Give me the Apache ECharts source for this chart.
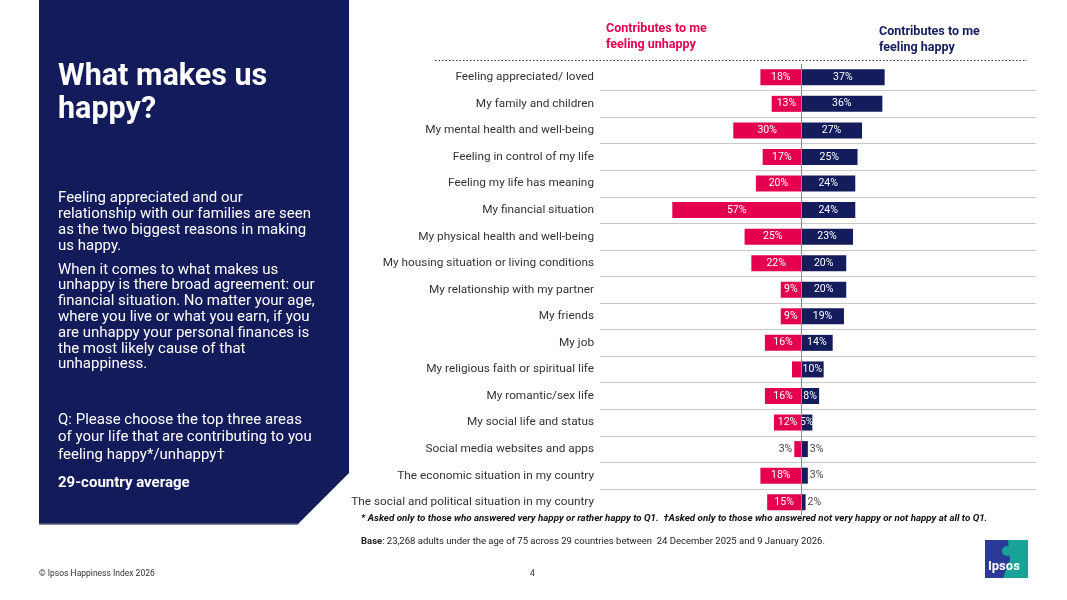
<!DOCTYPE html>
<html><head><meta charset="utf-8">
<script src="https://cdn.jsdelivr.net/npm/echarts@6/dist/echarts.min.js"></script>
<style>html,body{margin:0;padding:0;background:#fff}#c{width:1067px;height:600px}</style>
</head><body><div id="c"></div>
<script>
const categories = [
  "Feeling appreciated/ loved",
  "My family and children",
  "My mental health and well-being",
  "Feeling in control of my life",
  "Feeling my life has meaning",
  "My financial situation",
  "My physical health and well-being",
  "My housing situation or living conditions",
  "My relationship with my partner",
  "My friends",
  "My job",
  "My religious faith or spiritual life",
  "My romantic/sex life",
  "My social life and status",
  "Social media websites and apps",
  "The economic situation in my country",
  "The social and political situation in my country"
];
const unhappy = [18, 13, 30, 17, 20, 57, 25, 22, 9, 9, 16, 4, 16, 12, 3, 18, 15];
const happy   = [37, 36, 27, 25, 24, 24, 23, 20, 20, 19, 14, 10, 8, 5, 3, 3, 2];

const PINK = '#E4004F', NAVY = '#141C5C', FONT = 'Roboto, sans-serif';

function mk(vals, sign) {
  return vals.map(v => {
    let label;
    if (v >= 5) label = {show: true, position: 'inside', color: '#fff'};
    else if (v <= 3) label = {show: true, position: sign < 0 ? 'left' : 'right', color: '#444', distance: 2};
    else label = {show: false};
    return {value: sign * v, label};
  });
}

const chart = echarts.init(document.getElementById('c'));
chart.setOption({
  animation: false,
  textStyle: {fontFamily: FONT},
  grid: {left: 600, right: 31, top: 64, bottom: 84.5},
  xAxis: {type: 'value', min: -89, max: 104, show: false},
  yAxis: [
    {type: 'category', data: categories, inverse: true,
     axisLine: {show: false}, axisTick: {show: false},
     axisLabel: {color: '#333', fontSize: 11.8, margin: 6, fontFamily: FONT},
     splitLine: {show: false}},
    {type: 'value', min: 0, max: categories.length, interval: 1, inverse: true,
     axisLine: {show: false}, axisTick: {show: false}, axisLabel: {show: false},
     splitLine: {show: true, showMinLine: false, showMaxLine: false,
       lineStyle: {color: '#c8c8c8', width: 1}}}
  ],
  series: [
    {type: 'bar', name: 'unhappy', stack: 't', yAxisIndex: 0, barWidth: 16,
     itemStyle: {color: PINK}, data: mk(unhappy, -1),
     label: {fontSize: 10.5, fontFamily: FONT, formatter: p => Math.abs(p.value) + '%'},
     markLine: {silent: true, symbol: 'none', label: {show: false},
       lineStyle: {color: '#8a8a8a', width: 1, type: 'solid'}, data: [{xAxis: 0}]}},
    {type: 'bar', name: 'happy', stack: 't', yAxisIndex: 0, barWidth: 16,
     itemStyle: {color: NAVY}, data: mk(happy, 1),
     label: {fontSize: 10.5, fontFamily: FONT, formatter: p => Math.abs(p.value) + '%'}}
  ],
  graphic: [
    {type: 'polygon', z: 0, shape: {points: [[39,0],[349,0],[349,473],[298,524],[39,524]]},
     style: {fill: '#131B5B'}},
    {type: 'line', shape: {x1: 39, y1: 524, x2: 298, y2: 524}, style: {stroke: '#5a6080', lineWidth: 1.5}},
    {type: 'text', left: 58, top: 61, style: {text: 'What makes us\nhappy?', fill: '#fff',
      font: 'bold 30.5px ' + FONT, lineHeight: 33}},
    {type: 'text', left: 58, top: 190, style: {text: 'Feeling appreciated and our\nrelationship with our families are seen\nas the two biggest reasons in making\nus happy.',
      fill: '#fff', font: '15px ' + FONT, lineHeight: 16}},
    {type: 'text', left: 58, top: 262, style: {text: 'When it comes to what makes us\nunhappy is there broad agreement: our\nfinancial situation. No matter your age,\nwhere you live or what you earn, if you\nare unhappy your personal finances is\nthe most likely cause of that\nunhappiness.',
      fill: '#fff', font: '15px ' + FONT, lineHeight: 15.8}},
    {type: 'text', left: 58, top: 411, style: {text: 'Q: Please choose the top three areas\nof your life that are contributing to you\nfeeling happy*/unhappy\u2020',
      fill: '#fff', font: '15px ' + FONT, lineHeight: 17.8}},
    {type: 'text', left: 58, top: 476, style: {text: '29-country average', fill: '#fff', font: 'bold 15px ' + FONT}},
    {type: 'text', left: 606, top: 21, style: {text: 'Contributes to me\nfeeling unhappy', fill: PINK, font: 'bold 12.5px ' + FONT, lineHeight: 16}},
    {type: 'text', left: 879, top: 24, style: {text: 'Contributes to me\nfeeling happy', fill: NAVY, font: 'bold 12.5px ' + FONT, lineHeight: 16}},
    {type: 'line', shape: {x1: 435, y1: 60.5, x2: 1027, y2: 60.5}, style: {stroke: '#333', lineWidth: 1, lineDash: [1.5, 2]}},
    {type: 'text', left: 361, top: 514, style: {text: '* Asked only to those who answered very happy or rather happy to Q1.  \u2020Asked only to those who answered not very happy or not happy at all to Q1.',
      fill: '#111', font: 'italic bold 9.75px ' + FONT}},
    {type: 'text', left: 361, top: 537, style: {text: '{b|Base}: 23,268 adults under the age of 75 across 29 countries between  24 December 2025 and 9 January 2026.',
      fill: '#222', font: '9.5px ' + FONT, rich: {b: {fontWeight: 'bold', fontSize: 9.5, fill: '#222', fontFamily: FONT}}}},
    {type: 'text', left: 39, top: 569, style: {text: '\u00a9 Ipsos Happiness Index 2026', fill: '#333', font: '8.5px ' + FONT}},
    {type: 'text', left: 530, top: 569, style: {text: '4', fill: '#333', font: '8.5px ' + FONT}},
    {type: 'rect', shape: {x: 985, y: 540, width: 43, height: 38}, style: {fill: '#2B3A97'}},
    {type: 'polygon', shape: {points: [[1008,540],[1028,540],[1028,578],[1003,578],[1010,560]]}, style: {fill: '#17A398'}},
    {type: 'circle', shape: {cx: 1007, cy: 551, r: 5}, style: {fill: '#17A398'}},
    {type: 'text', left: 988, top: 560, style: {text: 'Ipsos', fill: '#fff', font: 'bold 13px ' + FONT}}
  ]
});
</script></body></html>
